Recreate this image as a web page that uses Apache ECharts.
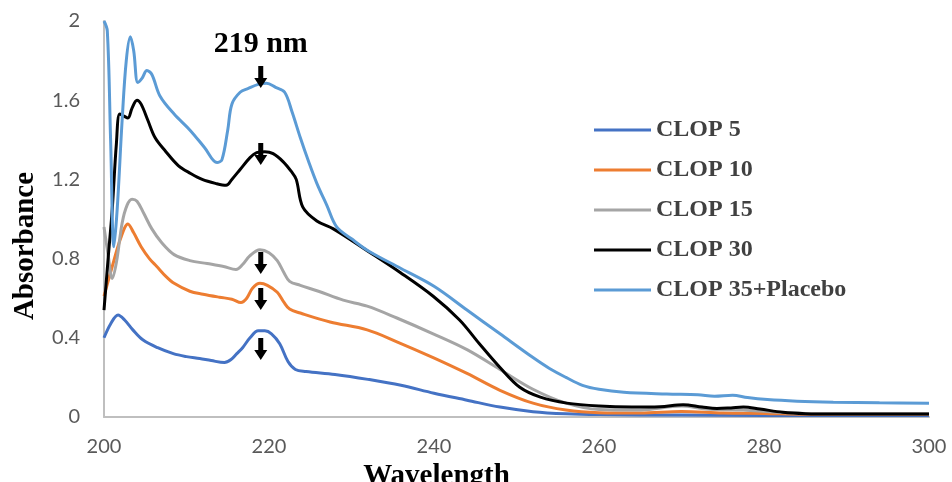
<!DOCTYPE html>
<html>
<head>
<meta charset="utf-8">
<script src="https://cdn.jsdelivr.net/npm/echarts@6/dist/echarts.min.js"></script>
<style>
  html, body { margin: 0; padding: 0; background: #fff; }
  #chart { width: 952px; height: 482px; }
</style>
</head>
<body>
<div id="chart"></div>
<script>
// series names (legend order)
const seriesNames = ["CLOP 5", "CLOP 10", "CLOP 15", "CLOP 30", "CLOP 35+Placebo"];
const seriesColors = ["#4472C4", "#ED7D31", "#A5A5A5", "#000000", "#5B9BD5"];

// [wavelength nm, absorbance]
const clop5 = [
  [200, 0.40], [200.8, 0.47], [201.7, 0.515], [202.5, 0.49], [203.5, 0.44], [204.7, 0.39],
  [206.5, 0.35], [208.4, 0.32], [210, 0.305], [211.6, 0.295], [213, 0.285], [214.6, 0.275],
  [215.4, 0.29], [216.1, 0.32], [216.8, 0.35], [217.7, 0.40], [218.7, 0.435], [219.5, 0.435],
  [220.3, 0.42], [221.3, 0.37], [222.3, 0.28], [223.2, 0.24], [224.5, 0.23], [228, 0.215],
  [232, 0.19], [236, 0.16], [240, 0.12], [244, 0.085], [248, 0.05], [252, 0.027],
  [256, 0.016], [260, 0.012], [270, 0.01], [280, 0.008], [290, 0.007], [300, 0.007]
];
const clop10 = [
  [200, 0.61], [201, 0.76], [202, 0.90], [202.9, 0.975], [203.6, 0.93], [204.5, 0.86],
  [205.5, 0.80], [206.4, 0.76], [207.5, 0.71], [208.5, 0.675], [210.4, 0.635], [212, 0.62],
  [214, 0.605], [215.5, 0.595], [216.6, 0.578], [217.3, 0.60], [218, 0.65], [218.9, 0.675],
  [219.8, 0.665], [221, 0.63], [221.8, 0.58], [222.5, 0.545], [223.8, 0.525], [227.4, 0.48],
  [231.9, 0.44], [235.5, 0.38], [239.9, 0.30], [244, 0.22], [248, 0.135], [252, 0.07],
  [256, 0.035], [260, 0.022], [265, 0.02], [270, 0.028], [275, 0.02], [280, 0.018],
  [285, 0.014], [300, 0.014]
];
const clop15 = [
  [200, 0.96], [200.5, 0.82], [201, 0.70], [201.5, 0.78], [202.2, 0.98], [202.8, 1.07],
  [203.4, 1.10], [204, 1.09], [204.8, 1.03], [205.8, 0.95], [207, 0.88], [208.5, 0.82],
  [210.4, 0.79], [212.5, 0.775], [214.5, 0.76], [216, 0.745], [216.8, 0.77], [217.7, 0.815],
  [218.9, 0.845], [220, 0.83], [221, 0.79], [221.8, 0.73], [222.5, 0.685], [223.8, 0.665],
  [226, 0.635], [229, 0.59], [231.9, 0.56], [235.5, 0.50], [239.9, 0.42], [244, 0.34],
  [248, 0.24], [252, 0.14], [256, 0.07], [260, 0.038], [265, 0.035], [270, 0.055],
  [273, 0.04], [277.5, 0.035], [281, 0.025], [285, 0.018], [300, 0.016]
];
const clop30 = [
  [200, 0.54], [200.5, 0.80], [201, 1.05], [201.5, 1.38], [201.9, 1.53], [202.4, 1.52],
  [202.9, 1.51], [203.4, 1.56], [204, 1.60], [204.5, 1.58], [205.3, 1.50], [206.2, 1.41],
  [207.5, 1.34], [209, 1.27], [210.5, 1.23], [211.9, 1.20], [213.5, 1.18], [214.8, 1.17],
  [215.5, 1.20], [216.5, 1.25], [217.7, 1.31], [218.5, 1.335], [219.5, 1.34], [220.5, 1.33],
  [221.7, 1.29], [222.7, 1.24], [223.3, 1.20], [224.1, 1.06], [225.8, 0.99], [227.8, 0.95],
  [231.9, 0.84], [235.9, 0.73], [239.9, 0.61], [243.1, 0.49], [245.5, 0.37], [248, 0.25],
  [250.4, 0.15], [252.9, 0.10], [256.1, 0.07], [260, 0.055], [264, 0.05], [267.4, 0.052],
  [270.2, 0.062], [272.5, 0.05], [274.3, 0.043], [276, 0.046], [277.5, 0.05], [279.5, 0.04],
  [282.3, 0.024], [285, 0.017], [288.4, 0.015], [300, 0.015]
];
const clop35 = [
  [200, 2.0], [200.4, 1.95], [200.8, 1.40], [201.2, 0.86], [201.6, 1.05], [202.2, 1.50],
  [202.7, 1.80], [203.2, 1.92], [203.6, 1.85], [204.1, 1.69], [204.6, 1.71], [205.2, 1.75],
  [205.8, 1.73], [206.8, 1.62], [208.5, 1.53], [210.4, 1.45], [212.2, 1.36], [213.7, 1.285],
  [214.3, 1.30], [215, 1.45], [215.5, 1.58], [216.5, 1.64], [217.5, 1.66], [218.7, 1.68],
  [219.7, 1.685], [220.8, 1.665], [221.9, 1.64], [222.8, 1.54], [223.8, 1.41], [224.8, 1.29],
  [225.8, 1.18], [227, 1.07], [228.2, 0.96], [230, 0.90], [232, 0.84], [236, 0.75],
  [240, 0.66], [244, 0.54], [248, 0.42], [252, 0.30], [254, 0.245], [256, 0.20],
  [258, 0.16], [260, 0.14], [263, 0.125], [268.2, 0.116], [272, 0.112], [274, 0.105],
  [276.2, 0.11], [278, 0.098], [280.4, 0.088], [284, 0.08], [288.4, 0.075], [294, 0.072],
  [300, 0.07]
];
const seriesData = [clop5, clop10, clop15, clop30, clop35];

// arrow marks at the 219 nm peak, one per curve
const peakWavelength = 219;
const arrowAbs = [0.343, 0.596, 0.778, 1.328, 1.717];
const peakLabel = "219 nm";
const peakLabelAbs = 1.884;

const xTicks = { min: 200, max: 300, interval: 20 };
const yTicks = { min: 0, max: 2, interval: 0.4 };

const serif = "'Liberation Serif', 'Times New Roman', serif";
const arrowPath = "path://M4,0 L9,0 L9,12 L13,12 L6.5,22 L0,12 L4,12 Z";

let option = {
  animation: false,
  backgroundColor: "#fff",
  grid: {
    left: 104,
    right: 23,
    top: 21,
    bottom: 65,
    containLabel: false,
    outerBoundsMode: "none"
  },
  legend: {
    orient: "vertical",
    left: 594,
    top: 117,
    padding: 0,
    itemGap: 14,
    icon: "rect",
    itemWidth: 57,
    itemHeight: 3,
    data: seriesNames,
    textStyle: {
      fontFamily: serif,
      fontWeight: "bold",
      fontSize: 24,
      lineHeight: 26,
      color: "#404040"
    }
  },
  xAxis: {
    type: "value",
    min: xTicks.min,
    max: xTicks.max,
    interval: xTicks.interval,
    name: "Wavelength",
    nameLocation: "middle",
    nameGap: 35,
    nameTextStyle: {
      fontFamily: serif,
      fontWeight: "bold",
      fontSize: 29,
      color: "#000",
      padding: [0, 160, 0, 0]
    },
    axisLine: { show: true, lineStyle: { color: "#BFBFBF", width: 2 } },
    axisTick: { show: false },
    splitLine: { show: false },
    axisLabel: {
      margin: 20,
      fontFamily: "Lato, 'Liberation Sans', sans-serif",
      fontSize: 20,
      color: "#595959"
    }
  },
  yAxis: {
    type: "value",
    min: yTicks.min,
    max: yTicks.max,
    interval: yTicks.interval,
    name: "Absorbance",
    nameLocation: "middle",
    nameGap: 64,
    nameTextStyle: {
      fontFamily: serif,
      fontWeight: "bold",
      fontSize: 29,
      color: "#000",
      padding: [0, 54, 0, 0]
    },
    axisLine: { show: true, lineStyle: { color: "#BFBFBF", width: 2 } },
    axisTick: { show: false },
    splitLine: { show: false },
    axisLabel: {
      margin: 24,
      fontFamily: "Lato, 'Liberation Sans', sans-serif",
      fontSize: 20,
      color: "#595959"
    }
  },
  series: seriesNames.map(function (name, i) {
    let marks = [
      { coord: [peakWavelength, arrowAbs[i]] }
    ];
    if (i === seriesNames.length - 1) {
      marks.push({
        coord: [peakWavelength, peakLabelAbs],
        symbolSize: 0,
        label: {
          show: true,
          position: "inside",
          formatter: peakLabel,
          fontFamily: serif,
          fontWeight: "bold",
          fontSize: 30,
          color: "#000"
        }
      });
    }
    return {
      name: name,
      type: "line",
      data: seriesData[i],
      symbol: "none",
      smooth: 0.35,
      clip: true,
      lineStyle: { color: seriesColors[i], width: 3 },
      itemStyle: { color: seriesColors[i] },
      markPoint: {
        symbol: arrowPath,
        symbolSize: [13, 22],
        itemStyle: { color: "#000" },
        label: { show: false },
        data: marks
      }
    };
  })
};

let dom = echarts.init(document.getElementById("chart"));
dom.setOption(option);
</script>
</body>
</html>
